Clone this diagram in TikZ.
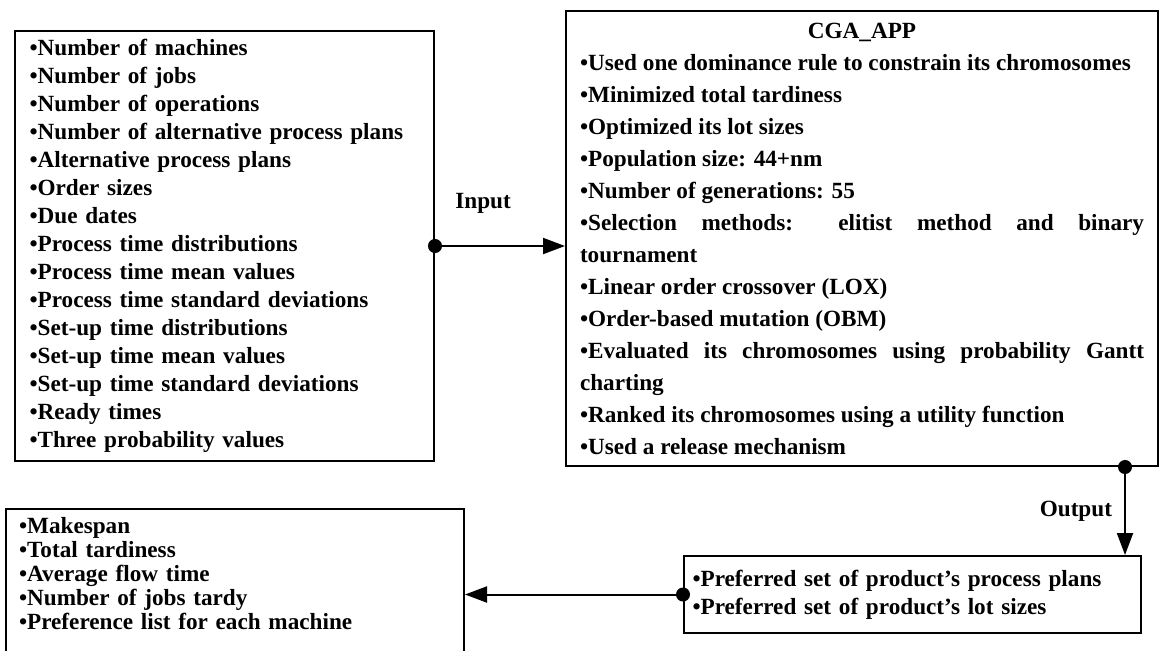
\documentclass[tikz,border=0pt]{standalone}
\usepackage{fontspec}
\setmainfont{Liberation Serif}
\usetikzlibrary{arrows.meta,positioning}

\tikzset{
  listbox/.style={draw, line width=1pt, rectangle, anchor=north west,
    font=\bfseries\fontsize{11.6}{14}\selectfont, inner ysep=0pt},
  lbl/.style={font=\bfseries\fontsize{11.6}{14}\selectfont, inner sep=1pt},
  flow/.style={line width=1pt, shorten <=-3.5pt,
    {Circle[length=7pt]}-{Triangle[length=11pt,width=8pt]}},
}

\begin{document}
\begin{tikzpicture}[x=0.5pt,y=-0.5pt]
    \useasboundingbox (0,0) rectangle (1159,650);
    % input data
    \node[listbox, align=left, minimum width=209.5pt, minimum height=215pt,
      text width=195pt, inner xsep=7pt] (inbox) at (14,30)
      {•Number of machines\\ •Number of jobs\\ •Number of operations\\
       •Number of alternative process plans\\ •Alternative process plans\\
       •Order sizes\\ •Due dates\\ •Process time distributions\\
       •Process time mean values\\ •Process time standard deviations\\
       •Set-up time distributions\\ •Set-up time mean values\\
       •Set-up time standard deviations\\ •Ready times\\
       •Three probability values};
    % the algorithm
    \node[listbox, align=justify, minimum width=296pt, minimum height=227.5pt,
      text width=282pt, inner xsep=7pt,
      font=\bfseries\fontsize{11.6}{16}\selectfont] (cga) at (565,10)
      {\makebox[\linewidth]{CGA\_APP}\\
       •Used one dominance rule to constrain its chromosomes\\
       •Minimized total tardiness\\ •Optimized its lot sizes\\
       •Population size: 44+nm\\ •Number of generations: 55\\
       •Selection methods: elitist method and binary\linebreak tournament\\
       •Linear order crossover (LOX)\\ •Order-based mutation (OBM)\\
       •Evaluated its chromosomes using probability Gantt\linebreak charting\\
       •Ranked its chromosomes using a utility function\\
       •Used a release mechanism};
    \node[listbox, align=left, minimum width=228.5pt, minimum height=38.5pt,
      text width=220pt, inner xsep=4pt] (outbox) at (683,555)
      {•Preferred set of product's process plans\\
       •Preferred set of product's lot sizes};
    \node[listbox, align=left, minimum width=229pt, text width=216pt,
      inner xsep=6.5pt, inner ysep=4pt,
      font=\bfseries\fontsize{11.6}{12}\selectfont] (resbox) at (5,508)
      {•Makespan\\ •Total tardiness\\ •Average flow time\\
       •Number of jobs tardy\\
       •Preference list for each machine\rule[-14pt]{0pt}{14pt}};
    \coordinate (odot) at ([xshift=-17pt]cga.south east);
    \draw[flow] (inbox.east) -- (inbox.east -| cga.west)
      node[lbl, pos=0.37, above=15pt] (inlbl) {Input};
    \draw[flow] (odot) -- (odot |- outbox.north)
      node[lbl, midway, left=5pt] (outlbl) {Output};
    \draw[flow] (outbox.west) -- (outbox.west -| resbox.east);
\end{tikzpicture}
\end{document}
